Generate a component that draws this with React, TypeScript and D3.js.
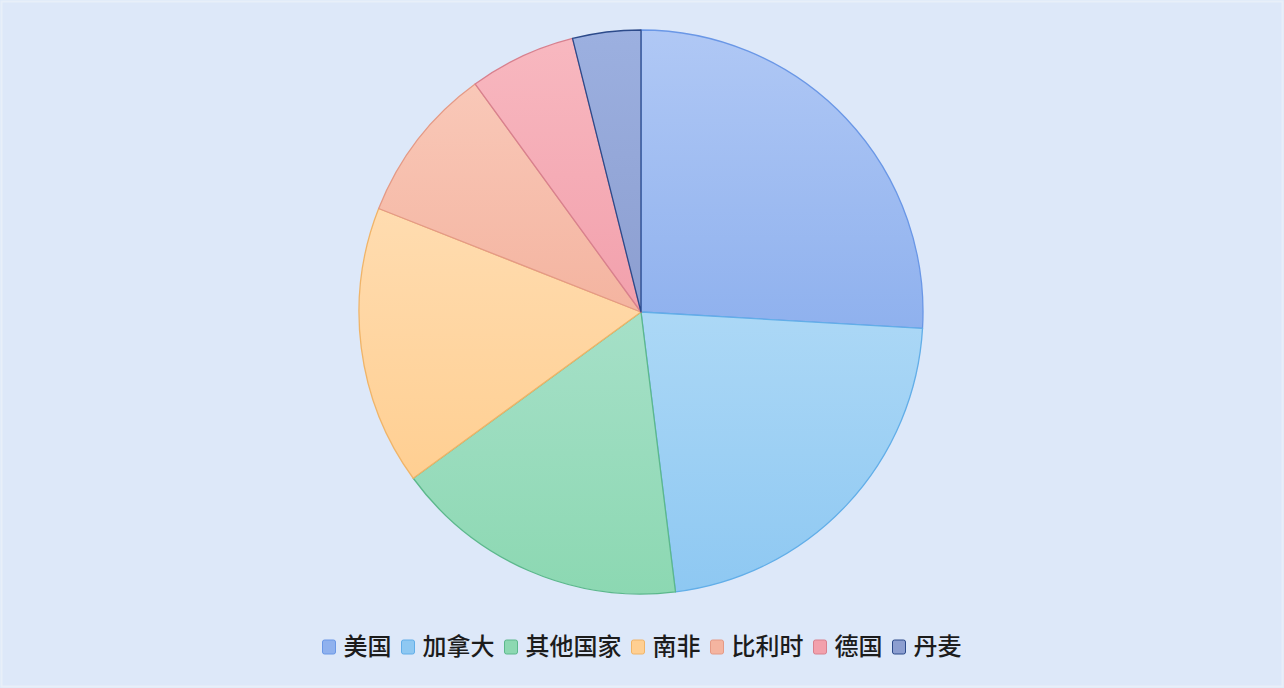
import React, { useEffect, useRef } from 'react';
import * as d3 from 'd3';

const countries = ['美国', '加拿大', '其他国家', '南非', '比利时', '德国', '丹麦'];
const shares = [25.9, 22.1, 16.9, 16.0, 9.0, 6.1, 3.9];
const topColors = ['#b0c8f5', '#acd8f6', '#a6e0c8', '#ffdcb0', '#f9c8b8', '#f8b8c0', '#9cb0e0'];
const bottomColors = ['#8fb1ee', '#8ec8f2', '#8cd8b2', '#ffcf92', '#f4b4a0', '#f2a0ac', '#8c9ed0'];
const strokeColors = ['#6a97e6', '#62aee8', '#5cb88c', '#f0b468', '#e49a86', '#d8808e', '#2c4a8a'];

const W = 1284;
const H = 688;

const App: React.FC = () => {
  const svgRef = useRef<SVGSVGElement>(null);

  useEffect(() => {
    if (!svgRef.current) return;
    const svg = d3.select(svgRef.current);
    svg.selectAll('*').remove();

    const cx = 641;
    const cy = 312;
    const radius = 282;

    svg.append('rect')
      .attr('width', W).attr('height', H)
      .attr('fill', '#dde8f9');
    svg.append('rect')
      .attr('x', 1.5).attr('y', 1.5).attr('width', W - 3).attr('height', H - 3)
      .attr('fill', 'none').attr('stroke', '#e8eff9').attr('stroke-width', 2);

    const defs = svg.append('defs');
    countries.forEach((_, i) => {
      const g = defs.append('linearGradient')
        .attr('id', `grad${i}`)
        .attr('x1', 0).attr('y1', 0).attr('x2', 0).attr('y2', 1);
      g.append('stop').attr('offset', '0%').attr('stop-color', topColors[i]);
      g.append('stop').attr('offset', '100%').attr('stop-color', bottomColors[i]);
    });

    const pie = d3.pie<number>().sort(null).value(d => d);
    const arc = d3.arc<d3.PieArcDatum<number>>().innerRadius(0).outerRadius(radius);

    const pieG = svg.append('g').attr('transform', `translate(${cx},${cy})`);
    pieG.selectAll('path')
      .data(pie(shares))
      .enter()
      .append('path')
      .attr('d', arc)
      .attr('fill', (_, i) => `url(#grad${i})`)
      .attr('stroke', (_, i) => strokeColors[i])
      .attr('stroke-width', 1.3)
      .attr('stroke-linejoin', 'round');

    // Legend
    const fontSize = 24;
    const box = 13;
    const boxGap = 8;
    const itemGap = 10;
    const legend = svg.append('g');
    const items = legend.selectAll('g')
      .data(countries)
      .enter()
      .append('g');
    items.append('rect')
      .attr('width', box).attr('height', box + 1)
      .attr('rx', 2)
      .attr('y', -box / 2 - 0.5)
      .attr('fill', (_, i) => bottomColors[i])
      .attr('stroke', (_, i) => strokeColors[i])
      .attr('stroke-width', 1);
    const texts = items.append('text')
      .text(d => d)
      .attr('x', box + boxGap)
      .attr('dy', '0.35em')
      .attr('font-family', '"Noto Sans CJK SC", sans-serif')
      .attr('font-size', fontSize)
      .attr('font-weight', 500)
      .attr('fill', '#1c1c1c');

    const widths: number[] = [];
    texts.each(function () {
      widths.push((this as SVGTextElement).getComputedTextLength());
    });
    const itemW = widths.map(w => box + boxGap + w);
    const total = d3.sum(itemW) + itemGap * (itemW.length - 1);
    let x = cx + 1 - total / 2;
    const offsets: number[] = [];
    itemW.forEach(w => { offsets.push(x); x += w + itemGap; });
    items.attr('transform', (_, i) => `translate(${offsets[i]},647)`);
  }, []);

  return (
    <div style={{ position: 'absolute', left: 0, top: 0, width: W, height: H }}>
      <svg ref={svgRef} width={W} height={H} style={{ display: 'block' }} />
    </div>
  );
};

export default App;
